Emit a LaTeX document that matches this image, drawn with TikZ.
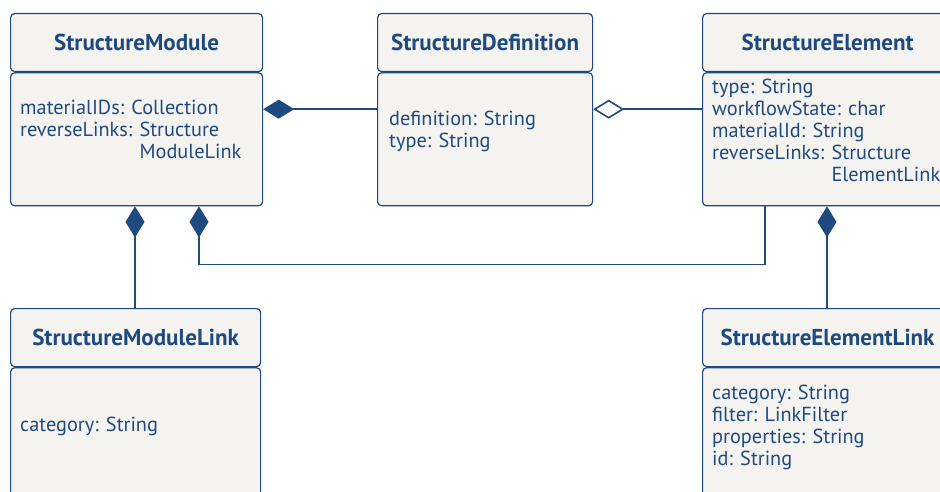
\documentclass[tikz,border=0pt]{standalone}
\usepackage{fontspec}
\setmainfont{PT Sans}
\usepackage{xcolor}
\definecolor{UMLBlue}{HTML}{1F4A80}
\definecolor{UMLFill}{HTML}{F4F3EF}
\usepackage{tikz}
\usetikzlibrary{
  positioning,
  arrows.meta
}

\begin{document}
\begin{tikzpicture}[
    x=1pt, y=-1pt,
    node distance=0pt,
    head/.style={
      rectangle, rounded corners=4pt,
      draw=UMLBlue, fill=UMLFill, line width=1.2pt,
      minimum width=#1, minimum height=58pt,
      inner sep=0pt, text=UMLBlue,
      font=\fontsize{23}{24}\selectfont\bfseries
    },
    body/.style={
      rectangle, rounded corners=4pt,
      draw=UMLBlue, fill=UMLFill, line width=1.2pt,
      minimum width=#1, minimum height=133pt,
      inner sep=0pt
    },
    attr/.style={
      align=left, inner sep=0pt, text=UMLBlue,
      font=\fontsize{20.3}{22}\selectfont
    },
    comp/.style={{Diamond[length=31pt, width=19pt]}-, line width=1.6pt, UMLBlue},
    aggr/.style={{Diamond[open, fill=white, length=31pt, width=19pt]}-, line width=1.6pt, UMLBlue}
  ]
    \clip (0,0) rectangle (940,492);
    \fill[white] (0,0) rectangle (940,492);

    \node[head=252pt, anchor=north west] (module) at (10,13) {StructureModule};
    \node[body=252pt, below=of module] (moduleBody) {};
    \node[attr, anchor=north west] (moduleAttr) at (20,100)
      {materialIDs: Collection\\
       reverseLinks: Structure\\
       \phantom{reverseLinks: }ModuleLink};

    \node[head=215pt, anchor=north west] (definition) at (377,13) {StructureDefinition};
    \node[body=215pt, below=of definition] (definitionBody) {};
    \node[attr, anchor=north west] (definitionAttr) at (389,111)
      {definition: String\\
       type: String};

    \node[head=250pt, anchor=north west] (element) at (702,13) {StructureElement};
    \node[body=250pt, below=of element] (elementBody) {};
    \node[attr, anchor=north west] (elementAttr) at (712,79)
      {type: String\\
       workflowState: char\\
       materialId: String\\
       reverseLinks: Structure\\
       \phantom{reverseLinks: }ElementLink};

    \node[head=250pt, anchor=north west] (moduleLink) at (10,308) {StructureModuleLink};
    \node[body=250pt, minimum height=150pt, below=of moduleLink] (moduleLinkBody) {};
    \node[attr, anchor=north west] (moduleLinkAttr) at (20,417)
      {category: String};

    \node[head=250pt, anchor=north west] (elementLink) at (702,308) {StructureElementLink};
    \node[body=250pt, minimum height=150pt, below=of elementLink] (elementLinkBody) {};
    \node[attr, anchor=north west] (elementLinkAttr) at (712,385)
      {category: String\\
       filter: LinkFilter\\
       properties: String\\
       id: String};

    \draw[comp] ([yshift=-37pt]moduleBody.north east) -- ([yshift=-37pt]definitionBody.north west);
    \draw[aggr] ([yshift=-37pt]definitionBody.north east) -- ([yshift=-37pt]elementBody.north west);
    \draw[comp] ([xshift=125pt]moduleBody.south west) -- ([xshift=125pt]moduleLink.north west);
    \draw[comp] ([xshift=189pt]moduleBody.south west) -- ++(0,58)
      -| ([xshift=63pt]elementBody.south west);
    \draw[comp] ([xshift=125pt]elementBody.south west) -- ([xshift=125pt]elementLink.north west);
  \end{tikzpicture}
\end{document}
